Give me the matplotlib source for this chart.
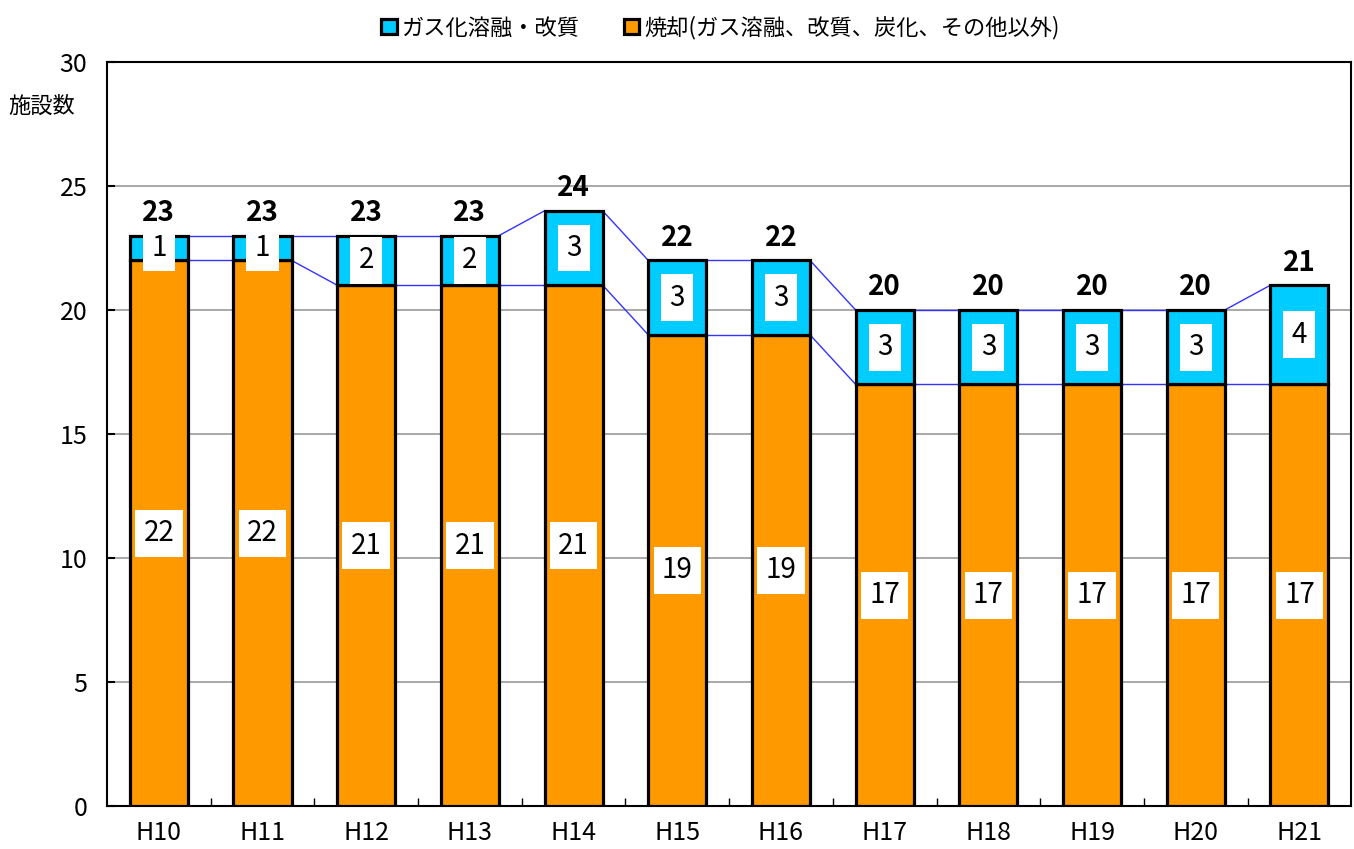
import matplotlib
matplotlib.use("Agg")
import matplotlib.pyplot as plt
import numpy as np

plt.rcParams["font.family"] = ["Noto Sans CJK JP", "DejaVu Sans"]

years = ["H10", "H11", "H12", "H13", "H14", "H15", "H16", "H17", "H18", "H19", "H20", "H21"]
shoukyaku = [22, 22, 21, 21, 21, 19, 19, 17, 17, 17, 17, 17]
gasuka = [1, 1, 2, 2, 3, 3, 3, 3, 3, 3, 3, 4]

ORANGE = "#FF9900"
CYAN = "#00CCFF"
W = 0.56

fig = plt.figure(figsize=(13.54, 8.49), dpi=100)
ax = fig.add_axes([0.079, 0.0506, 0.919, 0.8764])

x = np.arange(len(years))
low = np.array(shoukyaku)
top = low + np.array(gasuka)

ax.set_axisbelow(True)
ax.yaxis.grid(True, color="#999999", lw=1.2)

b1 = ax.bar(x, low, W, color=ORANGE, edgecolor="black", lw=2.3, zorder=3,
            label="焼却(ガス溶融、改質、炭化、その他以外)")
b2 = ax.bar(x, gasuka, W, bottom=low, color=CYAN, edgecolor="black", lw=2.3, zorder=3,
            label="ガス化溶融・改質")

# 系列線
for i in range(len(x) - 1):
    for s in (low, top):
        ax.plot([x[i] + W / 2, x[i + 1] - W / 2], [s[i], s[i + 1]],
                color="#3333FF", lw=1.0, zorder=2)

box = dict(boxstyle="square,pad=0.3", fc="white", ec="none")
for i in x:
    ax.text(i, low[i] / 2, str(low[i]), ha="center", va="center", fontsize=20,
            bbox=box, zorder=5)
    ax.text(i, low[i] + gasuka[i] / 2, str(gasuka[i]), ha="center", va="center",
            fontsize=20, bbox=box, zorder=5)
    ax.text(i, top[i] + 0.35, str(top[i]), ha="center", va="bottom", fontsize=20,
            fontweight="bold", zorder=5)

ax.set_xlim(-0.5, len(x) - 0.5)
ax.set_ylim(0, 30)
ax.set_yticks(range(0, 31, 5))
ax.set_xticks(x)
ax.set_xticklabels(years)
ax.set_xticks(np.arange(0.5, len(x) - 1, 1), minor=True)
ax.tick_params(axis="y", direction="in", length=6, width=1.5, labelsize=18, pad=14)
ax.tick_params(axis="x", which="major", length=0, labelsize=18, pad=10)
ax.tick_params(axis="x", which="minor", direction="in", length=6, width=1)
for sp in ax.spines.values():
    sp.set_linewidth(1.5)

ax.text(-0.079, 0.94, "施設数", transform=ax.transAxes, fontsize=16,
        ha="left", va="center")

fig.legend(handles=[b2, b1], loc="upper center", bbox_to_anchor=(0.532, 1.005),
           ncol=2, frameon=False, fontsize=16, handlelength=0.7, handleheight=0.7,
           handletextpad=0.2, columnspacing=2.0)

fig.savefig("out.png", dpi=100)
